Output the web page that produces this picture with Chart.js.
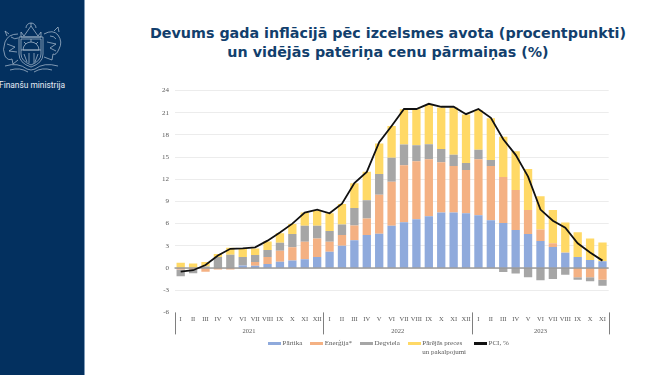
<!DOCTYPE html>
<html>
<head>
<meta charset="utf-8">
<title>Devums gada inflācijā</title>
<script src="https://cdn.jsdelivr.net/npm/chart.js@4"></script>
<style>
	html, body { margin: 0; padding: 0; background: #fff; }
	#page { position: relative; width: 665px; height: 375px; overflow: hidden; }
	#side { position: absolute; left: 0; top: 0; width: 84px; height: 375px; background: #03305f; border-right: 1px solid #7f9bb8; }
	#side svg { position: absolute; left: 0; top: 20px; }
	#org { position: absolute; left: -1px; top: 80px; font: 8.4px Roboto, sans-serif; color: #e8eef5; white-space: nowrap; }
	#title { position: absolute; left: 88px; width: 600px; top: 24px; text-align: center; white-space: nowrap; font: bold 14.3px/19px "DejaVu Sans", sans-serif; color: #123f6d; }
	#chartBox { position: absolute; left: 0; top: 0; width: 665px; height: 375px; }
	#legend { position: absolute; left: 268px; top: 339px; display: flex; gap: 8px; font: 7px/9px "Liberation Serif", serif; color: #595959; }
	#legend .item { display: flex; align-items: flex-start; }
	#legend i { display: block; width: 13px; height: 3px; margin: 3px 1.5px 0 0; }
</style>
</head>
<body>
<div id="page">
	<div id="side">
		<svg width="70" height="55" viewBox="0 0 70 55" fill="none" stroke="#b4c4d6" stroke-width="0.7">
			<path d="M19 17 h24 v17 q0 9 -12 13 q-12 -4 -12 -13 z"/>
			<path d="M21 19 h20 v15 q0 7 -10 11 q-10 -4 -10 -11 z"/>
			<path d="M23 30 a8 8 0 0 1 16 0 z M31 22 v-3 M26 24 l-2 -2 M36 24 l2 -2 M21 30 h20"/>
			<path d="M24 34 l3 8 M29 33 v10 M34 33 v10 M38 34 l-3 8"/>
			<path d="M21 12 l3 4 l7 -10 l7 10 l3 -4 v5 h-20 z M26 8 a5 5 0 0 1 10 0 M31 3 v3"/>
			<path d="M18 14 q-10 0 -13 8 q-3 8 0 14 q3 5 7 3 l1 5 l5 -4 M9 14 l-4 -3 l2 5 M7 24 l8 3 l-6 4 l8 1 M11 17 q4 3 7 1"/>
			<path d="M44 14 q9 -5 14 1 q5 7 1 14 q-3 7 -6 5 l-1 6 l-8 -3 M54 11 l4 -4 l1 5 M47 22 l9 2 l-6 4 l6 3 M50 16 q4 0 6 3"/>
			<path d="M5 46 q13 -4 22 3 q4 2 8 0 q9 -7 23 -3 M10 50 q10 -3 18 2 M52 50 q-10 -3 -18 2"/>
		</svg>
		<div id="org">Finanšu ministrija</div>
	</div>
	<div id="title">Devums gada inflācijā pēc izcelsmes avota (procentpunkti)<br>un vidējās patēriņa cenu pārmaiņas (%)</div>
	<div id="chartBox"><canvas id="myChart" width="665" height="375"></canvas></div>
	<div id="legend"></div>
</div>
<script>
const months = ['I','II','III','IV','V','VI','VII','VIII','IX','X','XI','XII',
	'I','II','III','IV','V','VI','VII','VIII','IX','X','XI','XII',
	'I','II','III','IV','V','VI','VII','VIII','IX','X','XI'];
const years = ['2021', '2022', '2023'];
const yearLengths = [12, 12, 11];
const yTicks = [-6, -3, 0, 3, 6, 9, 12, 15, 18, 21, 24];

const partika = [0, 0, 0, 0, 0, 0.35, 0.3, 0.55, 0.85, 1.0, 1.2, 1.5,
	2.2, 3.0, 3.75, 4.45, 4.65, 5.7, 6.2, 6.6, 7.0, 7.5, 7.5, 7.4,
	7.15, 6.45, 6.1, 5.15, 4.6, 3.65, 2.85, 2.05, 1.5, 1.1, 0.9];
const energija = [-0.2, -0.2, -0.5, -0.2, -0.2, -0.1, 0.5, 0.95, 1.5, 1.8, 2.35, 2.5,
	1.35, 1.45, 2.0, 2.25, 5.25, 5.95, 7.7, 7.85, 7.7, 6.8, 6.3, 5.85,
	7.55, 7.35, 6.2, 5.4, 3.25, 1.55, 0.5, 0.05, -1.25, -1.25, -1.6];
const degviela = [-0.9, -0.5, 0.2, 1.5, 1.8, 1.15, 0.95, 0.95, 1.05, 1.8, 2.15, 1.7,
	1.45, 1.45, 2.35, 2.45, 2.8, 3.25, 2.8, 2.15, 2.05, 1.8, 1.5, 0.95,
	1.3, 0.8, -0.55, -0.75, -1.25, -1.65, -1.5, -0.9, -0.35, -0.55, -0.8];
const citas = [0.7, 0.6, 0.6, 0.4, 0.95, 1.1, 0.9, 1.15, 1.3, 1.35, 1.8, 2.05,
	2.4, 2.75, 3.35, 3.85, 4.15, 4.3, 4.75, 4.85, 5.3, 5.6, 6.4, 6.55,
	5.35, 5.65, 5.45, 5.25, 5.55, 4.5, 4.5, 4.05, 3.35, 2.9, 2.55];
const pci = [-0.5, -0.3, 0.4, 1.7, 2.6, 2.65, 2.8, 3.7, 4.8, 6.0, 7.5, 7.9,
	7.4, 8.7, 11.5, 13.0, 17.0, 19.2, 21.5, 21.5, 22.2, 21.8, 21.8, 20.8,
	21.5, 20.3, 17.4, 15.3, 12.35, 7.9, 6.4, 5.45, 3.35, 2.1, 1.0];

const textColor = '#595959';
const serif = 'Liberation Serif';

// zero line over the bars and the year separators under the plot
const axisLines = {
	id: 'axisLines',
	beforeDatasetDraw(chart, args) {
		if (args.index !== 4) return;
		const { x, y } = chart.scales, ctx = chart.ctx;
		ctx.save();
		ctx.strokeStyle = '#6f6f6f';
		ctx.lineWidth = 1.2;
		ctx.beginPath();
		ctx.moveTo(x.left, y.getPixelForValue(0));
		ctx.lineTo(x.right, y.getPixelForValue(0));
		ctx.stroke();
		ctx.restore();
	},
	afterDraw(chart) {
		const x = chart.scales.x, ctx = chart.ctx;
		let idx = 0;
		ctx.save();
		ctx.strokeStyle = '#7f7f7f';
		ctx.lineWidth = 1;
		for (let i = 0; i <= yearLengths.length; i++) {
			const px = Math.round(x.getPixelForValue(idx - 0.5)) + 0.5;
			ctx.beginPath();
			ctx.moveTo(px, x.top);
			ctx.lineTo(px, x.top + 22);
			ctx.stroke();
			idx += yearLengths[i] || 0;
		}
		ctx.restore();
	}
};

const bar = (label, data, color) => ({
	type: 'bar', label, data, backgroundColor: color, stack: 'inflacija',
	barPercentage: 0.67, categoryPercentage: 1, order: 2
});

const myChart = new Chart(document.getElementById('myChart'), {
	data: {
		labels: months,
		datasets: [
			bar('Pārtika', partika, '#8faadc'),
			bar('Enerģija*', energija, '#f4b183'),
			bar('Degviela', degviela, '#a6a6a6'),
			bar('Pārējās preces<br>un pakalpojumi', citas, '#ffd966'),
			{
				type: 'line', label: 'PCI, %', data: pci, borderColor: '#111',
				backgroundColor: '#111', borderWidth: 1.8, pointRadius: 0, tension: 0, order: 1
			}
		]
	},
	plugins: [axisLines],
	options: {
		responsive: false,
		animation: false,
		layout: { padding: { left: 154.5, right: 56.3, top: 90.5, bottom: 36.6 } },
		scales: {
			x: {
				stacked: true,
				position: 'bottom',
				offset: true,
				grid: { display: false, drawTicks: false },
				border: { display: false },
				ticks: {
					autoSkip: false, maxRotation: 0, padding: 3,
					color: textColor, font: { family: serif, size: 6.5 }
				},
				afterFit(axis) { axis.height = 14; }
			},
			years: {
				type: 'linear',
				position: 'bottom',
				min: 0,
				max: months.length,
				grid: { display: false, drawTicks: false },
				border: { display: false },
				afterBuildTicks(axis) {
					let start = 0;
					axis.ticks = yearLengths.map(n => {
						const value = start + n / 2;
						start += n;
						return { value };
					});
				},
				ticks: {
					autoSkip: false, maxRotation: 0, padding: 1,
					color: textColor, font: { family: serif, size: 6.5 },
					callback: (value, i) => years[i]
				},
				afterFit(axis) { axis.height = 12; }
			},
			y: {
				stacked: true,
				min: -6,
				max: 24,
				afterBuildTicks(axis) { axis.ticks = yTicks.map(value => ({ value })); },
				grid: {
					drawTicks: false,
					lineWidth: 1,
					color: c => c.tick.value === -6 ? 'transparent' : '#ececec'
				},
				border: { display: false },
				ticks: {
					padding: 5.5, color: textColor, font: { family: serif, size: 7 }
				},
				afterFit(axis) { axis.width = 20; }
			}
		},
		plugins: {
			title: { display: false },
			tooltip: { enabled: false },
			legend: { display: false }
		}
	}
});

// legend as real text, colours taken from the datasets
document.getElementById('legend').innerHTML = myChart.data.datasets.map(d =>
	`<div class="item"><i style="background:${d.backgroundColor}"></i><span>${d.label}</span></div>`
).join('');
</script>
</body>
</html>
